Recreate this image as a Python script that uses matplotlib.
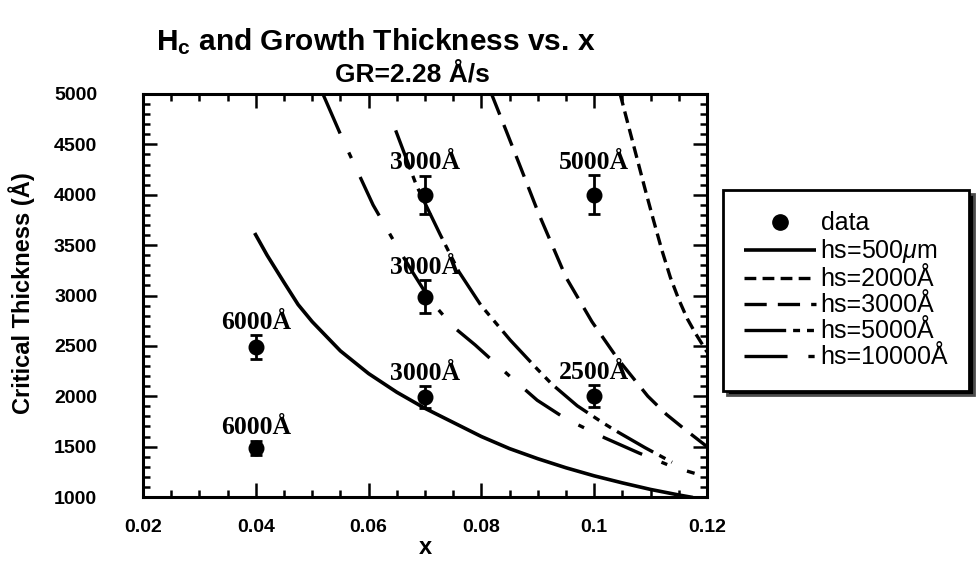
import matplotlib
matplotlib.use("Agg")
import matplotlib.pyplot as plt
from matplotlib.lines import Line2D
from matplotlib.ticker import MultipleLocator, FixedLocator, FixedFormatter

plt.rcParams['font.family'] = ['Liberation Sans', 'DejaVu Sans']
plt.rcParams['mathtext.fontset'] = 'custom'
plt.rcParams['mathtext.it'] = 'Liberation Sans:italic'
plt.rcParams['mathtext.bf'] = 'Liberation Sans:bold'
plt.rcParams['mathtext.rm'] = 'Liberation Sans:bold'
plt.rcParams['lines.scale_dashes'] = False

# ---- data ----
pt_x = [0.04, 0.04, 0.07, 0.07, 0.07, 0.10, 0.10]
pt_y = [1490, 2490, 1990, 2990, 4000, 4000, 2000]
pt_err = [70, 120, 110, 160, 190, 195, 110]
pt_labels = ['6000Å', '6000Å', '3000Å', '3000Å', '3000Å', '5000Å', '2500Å']

sol_x = [0.0398, 0.042, 0.045, 0.0475, 0.05, 0.055, 0.06, 0.065, 0.07, 0.075,
         0.08, 0.085, 0.09, 0.095, 0.10, 0.105, 0.11, 0.115, 0.1175]
sol_y = [3620, 3400, 3130, 2910, 2740, 2450, 2225, 2040, 1880, 1740,
         1600, 1480, 1380, 1290, 1210, 1140, 1075, 1020, 995]

h2000_x = [0.1046, 0.106, 0.1075, 0.109, 0.1105, 0.112, 0.1135, 0.115, 0.1165, 0.118, 0.12]
h2000_y = [5000, 4700, 4380, 4060, 3750, 3450, 3180, 2960, 2770, 2620, 2440]

h3000_x = [0.0818, 0.0845, 0.0871, 0.0901, 0.095, 0.0996, 0.1042, 0.1095, 0.1128, 0.1161, 0.12]
h3000_y = [5000, 4620, 4250, 3820, 3180, 2740, 2369, 2001, 1820, 1670, 1500]

h5000_x = [0.0648, 0.0685, 0.0727, 0.076, 0.0799, 0.0851, 0.0899, 0.0925, 0.097,
           0.1016, 0.1042, 0.109, 0.1138]
h5000_y = [4639, 4090, 3604, 3237, 2904, 2558, 2270, 2120, 1905, 1734, 1645, 1490, 1345]

h10000_x = [0.0519, 0.0553, 0.0608, 0.065, 0.0679, 0.0709, 0.075, 0.0789, 0.085,
            0.0899, 0.095, 0.1019, 0.108, 0.114, 0.1178]
h10000_y = [5000, 4563, 3898, 3490, 3223, 2955, 2690, 2509, 2200, 1960, 1775,
            1586, 1435, 1298, 1235]

x_ticks = [0.02, 0.04, 0.06, 0.08, 0.10, 0.12]
x_ticklabels = ['0.02', '0.04', '0.06', '0.08', '0.1', '0.12']
y_ticks = [1000, 1500, 2000, 2500, 3000, 3500, 4000, 4500, 5000]

# ---- figure ----
W, H = 976, 568
fig = plt.figure(figsize=(W / 100, H / 100), dpi=100)
ax = fig.add_axes([143 / W, 1 - 497 / H, (707 - 143) / W, (497 - 94) / H])

lw = 2.4
ax.plot(sol_x, sol_y, color='black', lw=2.6, solid_capstyle='butt', label='hs=500$\\mathit{\\mu}$m')
ax.plot(h2000_x, h2000_y, color='black', lw=lw, dashes=(8.5, 4.5), label='hs=2000Å')
ax.plot(h3000_x, h3000_y, color='black', lw=lw, dashes=(16, 8), label='hs=3000Å')
ax.plot(h5000_x, h5000_y, color='black', lw=lw, dashes=(30, 5, 5, 5, 5, 5), label='hs=5000Å')
ax.plot(h10000_x, h10000_y, color='black', lw=lw, dashes=(31, 15, 4.5, 15), label='hs=10000Å')

ax.errorbar(pt_x, pt_y, yerr=pt_err, fmt='o', color='black', ms=10.5,
            elinewidth=2, capsize=4.5, capthick=2, zorder=5)

for x, y, e, t in zip(pt_x, pt_y, pt_err, pt_labels):
    ax.annotate(t, xy=(x, y + e), xytext=(0, 4.5), textcoords='offset points',
                ha='center', va='baseline', fontsize=18.5, fontweight='bold',
                family=['Liberation Serif', 'DejaVu Serif'])

ax.set_xlim(0.02, 0.12)
ax.set_ylim(1000, 5000)
ax.xaxis.set_major_locator(FixedLocator(x_ticks))
ax.xaxis.set_major_formatter(FixedFormatter(x_ticklabels))
ax.xaxis.set_minor_locator(MultipleLocator(0.005))
ax.yaxis.set_major_locator(FixedLocator(y_ticks))
ax.yaxis.set_minor_locator(MultipleLocator(100))

ax.tick_params(which='both', direction='in', top=True, right=True, width=1.8)
ax.tick_params(which='major', length=10)
ax.tick_params(which='minor', length=5)
ax.tick_params(axis='y', which='major', pad=33)
ax.tick_params(axis='x', which='major', pad=16)
for lab in ax.get_xticklabels() + ax.get_yticklabels():
    lab.set_fontsize(14)
    lab.set_fontweight('bold')
for s in ax.spines.values():
    s.set_linewidth(2.2)

fig.text(376 / W, 1 - 42 / H, 'H$_\\mathbf{c}$ and Growth Thickness vs. x', ha='center', va='center',
         fontsize=21.5, fontweight='bold')
fig.text(412 / W, 1 - 75 / H, 'GR=2.28 Å/s', ha='center', va='center',
         fontsize=19, fontweight='bold')
fig.text(22 / W, 1 - 293 / H, 'Critical Thickness (Å)', rotation=90, ha='center', va='center',
         fontsize=17, fontweight='bold')
fig.text(425 / W, 1 - 548 / H, 'x', ha='center', va='center', fontsize=17, fontweight='bold')

handles, labels = ax.get_legend_handles_labels()
data_handle = Line2D([], [], marker='o', ls='none', color='black', ms=11)
leg = fig.legend([data_handle] + handles, ['data'] + labels,
                 loc='upper left', bbox_to_anchor=(723 / W, 1 - 190 / H),
                 fontsize=18, frameon=True, fancybox=False, handlelength=2.85,
                 handletextpad=0.2, labelspacing=0.08, borderpad=0.85, borderaxespad=0,
                 shadow={'ox': 3, 'oy': -3, 'facecolor': 'black', 'alpha': 1})
leg.get_frame().set_edgecolor('black')
leg.get_frame().set_linewidth(2)

fig.savefig('out.png', dpi=100)
